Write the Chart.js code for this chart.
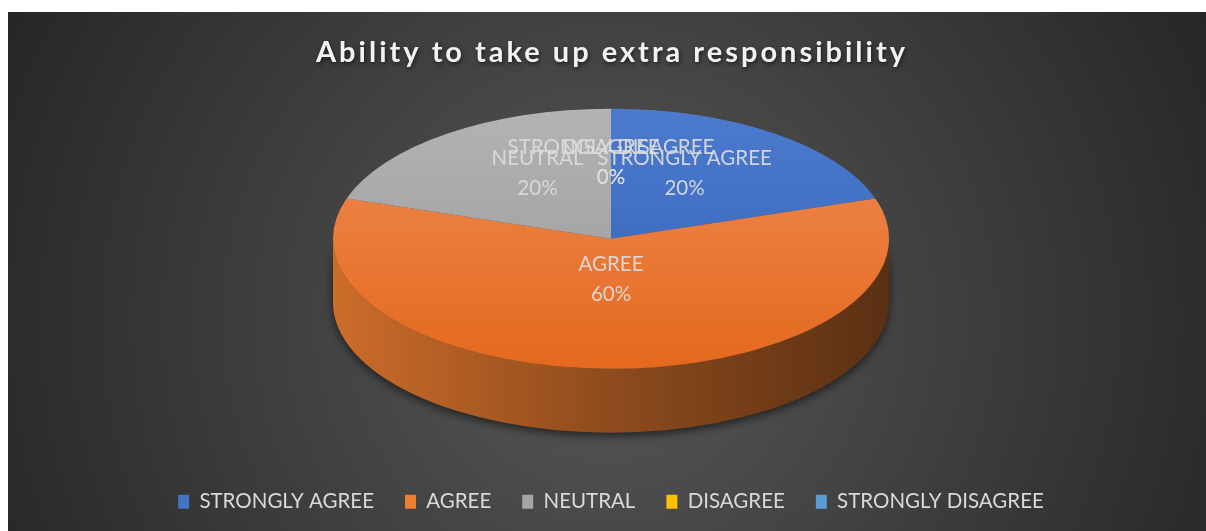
<!DOCTYPE html>
<html>
<head>
<meta charset="utf-8">
<script src="https://cdn.jsdelivr.net/npm/chart.js@4.4.1/dist/chart.umd.min.js"></script>
<style>
  html, body { margin: 0; padding: 0; background: #fff; }
  canvas { display: block; }
</style>
</head>
<body>
<canvas id="myChart" width="1206" height="531"></canvas>
<script>
const ctx = document.getElementById('myChart');

// survey answers
const chartTitle = 'Ability to take up extra responsibility';
const categories = ['STRONGLY AGREE', 'AGREE', 'NEUTRAL', 'DISAGREE', 'STRONGLY DISAGREE'];
const responses = [1, 3, 1, 0, 0];

const sliceColors = ['#4472C4', '#ED7D31', '#A5A5A5', '#FFC000', '#5B9BD5'];
const topLight = ['#4C7BCD', '#EF8C56', '#B3B3B3', '#FFC933', '#6AA6DC'];
const topDark = ['#3360B8', '#E4691D', '#989898', '#EAAE00', '#4C8BC8'];

const FONT = 'Lato';
const RX = 278, RY = 130, DEPTH = 64, LABEL_LIFT = 18;

function shade(hex, k) {
    const n = parseInt(hex.slice(1), 16);
    const r = Math.round(((n >> 16) & 255) * k);
    const g = Math.round(((n >> 8) & 255) * k);
    const b = Math.round((n & 255) * k);
    return `rgb(${r},${g},${b})`;
}

function topFill(context) {
    const chart = context.chart;
    const i = context.dataIndex;
    const area = chart.chartArea;
    if (!area) return sliceColors[i];
    const cy = (area.top + area.bottom) / 2;
    const r = Math.min(area.right - area.left, area.bottom - area.top) / 2;
    const g = chart.ctx.createLinearGradient(0, cy - r, 0, cy + r);
    g.addColorStop(0, topLight[i]);
    g.addColorStop(1, topDark[i]);
    return g;
}

// squash the flat pie into a tilted ellipse
function pieTransform(chart) {
    const a = chart.getDatasetMeta(0).data[0];
    const cx = a.x, cy = a.y, r = a.outerRadius;
    return { cx, cy, r, sx: RX / r, sy: RY / r, ey: cy - DEPTH / 2 };
}

const pie3d = {
    id: 'pie3d',
    beforeDraw(chart) {
        const c = chart.ctx;
        c.save();
        c.fillStyle = '#fff';
        c.fillRect(0, 0, chart.width, chart.height);
        const g = c.createRadialGradient(610, 320, 0, 610, 320, 720);
        g.addColorStop(0, '#585858');
        g.addColorStop(1, '#232323');
        c.fillStyle = g;
        c.fillRect(8, 12, chart.width - 8, chart.height - 12);
        c.restore();
    },
    beforeDatasetsDraw(chart) {
        const c = chart.ctx;
        const t = pieTransform(chart);
        c.save();
        c.translate(t.cx, t.ey);
        c.scale(t.sx, t.sy);
        c.translate(-t.cx, -t.cy);
        const d = DEPTH / t.sy;
        chart.getDatasetMeta(0).data.forEach((arc, i) => {
            const p = arc.getProps(['x', 'y', 'startAngle', 'endAngle', 'outerRadius'], true);
            for (let k = -1; k <= 1; k++) {
                const a1 = Math.max(p.startAngle + k * 2 * Math.PI, 0);
                const a2 = Math.min(p.endAngle + k * 2 * Math.PI, Math.PI);
                if (a2 <= a1) continue;
                const g = c.createLinearGradient(p.x - p.outerRadius, 0, p.x + p.outerRadius, 0);
                g.addColorStop(0, shade(sliceColors[i], 0.86));
                g.addColorStop(0.5, shade(sliceColors[i], 0.6));
                g.addColorStop(1, shade(sliceColors[i], 0.38));
                c.beginPath();
                c.arc(p.x, p.y, p.outerRadius, a1, a2);
                c.arc(p.x, p.y + d, p.outerRadius, a2, a1, true);
                c.closePath();
                c.save();
                c.shadowColor = 'rgba(0,0,0,0.6)';
                c.shadowBlur = 10;
                c.shadowOffsetY = 3;
                c.fillStyle = g;
                c.fill();
                c.restore();
            }
        });
        // transform stays on while Chart.js draws the top faces
    },
    afterDatasetsDraw(chart) {
        const c = chart.ctx;
        c.restore();
        const t = pieTransform(chart);
        const sum = responses.reduce((a, b) => a + b, 0);
        c.save();
        c.font = `20.5px ${FONT}`;
        c.fillStyle = 'rgba(220,220,220,0.92)';
        c.textAlign = 'center';
        c.textBaseline = 'middle';
        chart.getDatasetMeta(0).data.forEach((arc, i) => {
            const p = arc.getProps(['startAngle', 'endAngle', 'outerRadius'], true);
            const mid = (p.startAngle + p.endAngle) / 2;
            const rr = p.outerRadius * 0.45;
            const X = t.cx + t.sx * rr * Math.cos(mid);
            const Y = t.ey + t.sy * rr * Math.sin(mid) - LABEL_LIFT;
            const pct = Math.round(100 * responses[i] / sum) + '%';
            c.fillText(categories[i], X, Y - 15);
            c.fillText(pct, X, Y + 15);
        });
        c.restore();
    },
    afterDraw(chart) {
        const c = chart.ctx;
        const a = chart.chartArea;
        c.save();
        c.font = `bold 29px ${FONT}`;
        c.letterSpacing = '3px';
        c.textAlign = 'center';
        c.textBaseline = 'middle';
        c.shadowColor = 'rgba(0,0,0,0.6)';
        c.shadowBlur = 4;
        c.shadowOffsetX = 1;
        c.shadowOffsetY = 2;
        c.fillStyle = '#F2F2F2';
        c.fillText(chartTitle, (a.left + a.right) / 2 + 1, 53);
        c.restore();
    }
};

const chart = new Chart(ctx, {
    type: 'pie',
    plugins: [pie3d],
    data: {
        labels: categories,
        datasets: [{
            data: responses,
            backgroundColor: topFill,
            borderWidth: 0,
            clip: false,
        }],
    },
    options: {
        responsive: false,
        devicePixelRatio: 1,
        animation: false,
        events: [],
        layout: { padding: { top: 81, left: 16, right: 0, bottom: 9 } },
        plugins: {
            tooltip: { enabled: false },
            legend: {
                position: 'bottom',
                labels: {
                    color: '#D9D9D9',
                    font: { family: FONT, size: 20.5 },
                    boxWidth: 11,
                    boxHeight: 14,
                    padding: 31,
                    generateLabels: () => categories.map((name, i) => ({
                        text: name,
                        fillStyle: sliceColors[i],
                        strokeStyle: sliceColors[i],
                        lineWidth: 0,
                        hidden: false,
                        index: i,
                        fontColor: '#D9D9D9',
                    })),
                },
            },
        },
    },
});
</script>
</body>
</html>
